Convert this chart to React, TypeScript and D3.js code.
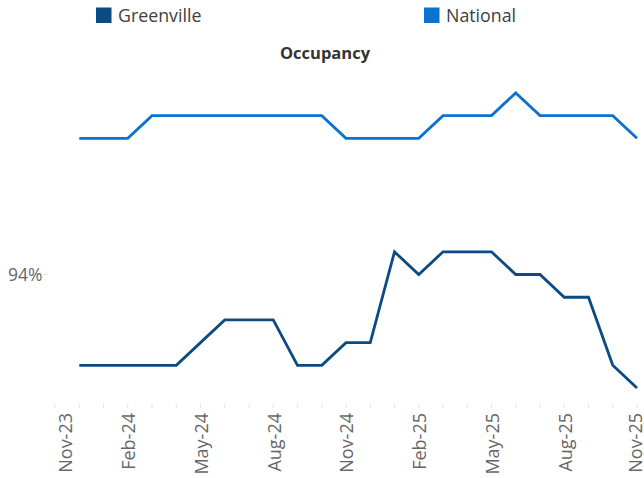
import React from "react";
import * as d3 from "d3";

const months = [
  "Nov-23", "Dec-23", "Jan-24", "Feb-24", "Mar-24", "Apr-24", "May-24", "Jun-24", "Jul-24",
  "Aug-24", "Sep-24", "Oct-24", "Nov-24", "Dec-24", "Jan-25", "Feb-25", "Mar-25", "Apr-25",
  "May-25", "Jun-25", "Jul-25", "Aug-25", "Sep-25", "Oct-25", "Nov-25",
];
const dataMonths = months.slice(1);
const greenville = [93.6, 93.6, 93.6, 93.6, 93.6, 93.7, 93.8, 93.8, 93.8, 93.6, 93.6, 93.7, 93.7, 94.1, 94.0, 94.1, 94.1, 94.1, 94.0, 94.0, 93.9, 93.9, 93.6, 93.5];
const national = [94.6, 94.6, 94.6, 94.7, 94.7, 94.7, 94.7, 94.7, 94.7, 94.7, 94.7, 94.6, 94.6, 94.6, 94.6, 94.7, 94.7, 94.7, 94.8, 94.7, 94.7, 94.7, 94.7, 94.6];
const tickLabels = ["Nov-23", "Feb-24", "May-24", "Aug-24", "Nov-24", "Feb-25", "May-25", "Aug-25", "Nov-25"];
const yTicks = [94];
const seriesNames = ["Greenville", "National"];
const seriesColors = ["#0C4A84", "#0B72CE"];

const W = 644;
const H = 478;
const FONT = "'Open Sans', 'Noto Sans', sans-serif";

export default function App() {
  const x = d3.scalePoint<string>().domain(months).range([55, 637]);
  const y = d3.scaleLinear().domain([93.42, 94.9]).range([406.2, 70.2]);
  const line = d3
    .line<number>()
    .x((_, i) => x(dataMonths[i]) as number)
    .y((v) => y(v));
  const series = [greenville, national];
  const legendX = [96, 424];

  return (
    <svg
      width={W}
      height={H}
      style={{ position: "absolute", left: 0, top: 0, background: "#fff" }}
      fontFamily={FONT}
    >
      {/* legend */}
      {seriesNames.map((name, i) => (
        <g key={name}>
          <rect x={legendX[i]} y={7.5} width={15.5} height={15.5} fill={seriesColors[i]} />
          <text x={legendX[i] + 22} y={21.5} fontSize={17.8} fill="#404040">
            {name}
          </text>
        </g>
      ))}
      {/* title */}
      <text x={325} y={59} textAnchor="middle" fontSize={16.5} fontWeight="bold" fill="#333">
        Occupancy
      </text>
      {/* y axis */}
      {yTicks.map((t) => (
        <g key={t}>
          <line x1={43} x2={48} y1={y(t)} y2={y(t)} stroke="#e6e6e6" strokeWidth={1} />
          <text x={42.5} y={y(t)} dy="0.36em" textAnchor="end" fontSize={17.5} fill="#666">
            {t}%
          </text>
        </g>
      ))}
      {/* x ticks */}
      {months.map((m) => (
        <line
          key={m}
          x1={x(m)}
          x2={x(m)}
          y1={404}
          y2={408}
          stroke="#e3e3e3"
          strokeWidth={1}
        />
      ))}
      {tickLabels.map((m) => {
        const px = Math.min(Math.max(x(m) as number, 65), 634.5);
        return (
          <text
            key={m}
            transform={`translate(${px + 1},413) rotate(-90)`}
            textAnchor="end"
            dy="0.35em"
            fontSize={18}
            fill="#666"
          >
            {m}
          </text>
        );
      })}
      {/* lines */}
      {series.map((s, i) => (
        <path
          key={seriesNames[i]}
          d={line(s) || ""}
          fill="none"
          stroke={seriesColors[i]}
          strokeWidth={2.8}
          strokeLinejoin="miter"
        />
      ))}
    </svg>
  );
}
